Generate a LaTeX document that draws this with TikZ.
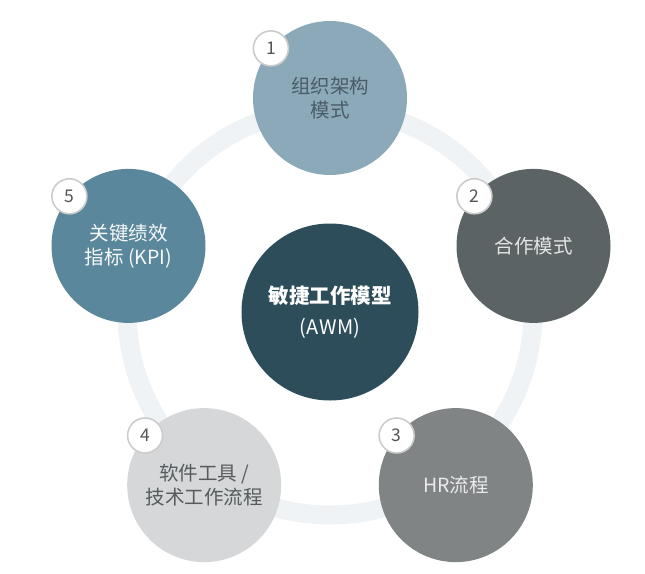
\documentclass[tikz,border=0pt]{standalone}
\usepackage{fontspec}
\setmainfont{Noto Sans CJK SC}
\definecolor{ringc}{HTML}{EFF3F5}
\definecolor{cA}{HTML}{8BA9B9}
\definecolor{cB}{HTML}{5B6364}
\definecolor{cC}{HTML}{808485}
\definecolor{cD}{HTML}{D5D7D8}
\definecolor{cE}{HTML}{5B879C}
\definecolor{cM}{HTML}{2E4D5A}
\definecolor{tA}{HTML}{4A5C68}
\definecolor{tD}{HTML}{555B5E}
\definecolor{badgeline}{HTML}{CCCCCC}
\definecolor{badgetext}{HTML}{555555}
\begin{document}
\begin{tikzpicture}[x=1pt,y=-1pt,
  ringline/.style={draw=ringc,line width=19pt},
  petal/.style={circle,minimum size=154pt,inner sep=0pt,align=center,font=\fontsize{19.5}{24}\selectfont},
  hub/.style={circle,fill=cM,minimum size=177pt,inner sep=0pt,align=center,text=white},
  badge/.style={circle,draw=badgeline,line width=1.6pt,fill=white,minimum size=35pt,inner sep=0pt,text=badgetext,font=\fontsize{17.5}{17.5}\selectfont}
]
\useasboundingbox (0,0) rectangle (645,573);
\coordinate (o) at (330,312);
\draw[ringline] (o) circle[radius=203pt];
\node[hub] (hub) at (o) {{\fontsize{20.5}{33}\selectfont\bfseries 敏捷工作模型}\\[11pt]{\fontsize{20}{33}\selectfont (A\kern1pt W\kern1pt M)}};
\node[petal,fill=cA,text=tA] (p1) at (330,98) {组织架构\\模式};
\node[petal,fill=cB,text=white!90!black] (p2) at (533.5,245.9) {合作模式};
\node[petal,fill=cC,text=white!92!black] (p3) at (455.8,485.1) {HR流程};
\node[petal,fill=cD,text=tD] (p4) at (204.2,485.1) {软件工具 /\\技术工作流程};
\node[petal,fill=cE,text=white!95!cE] (p5) at (128.5,245.9) {关键绩效\\指标 (KPI)};
\node[badge] (b1) at (p1.140) {1};
\node[badge] (b2) at (p2.140) {2};
\node[badge] (b3) at (p3.140) {3};
\node[badge] (b4) at (p4.140) {4};
\node[badge] (b5) at (p5.140) {5};
\end{tikzpicture}
\end{document}
